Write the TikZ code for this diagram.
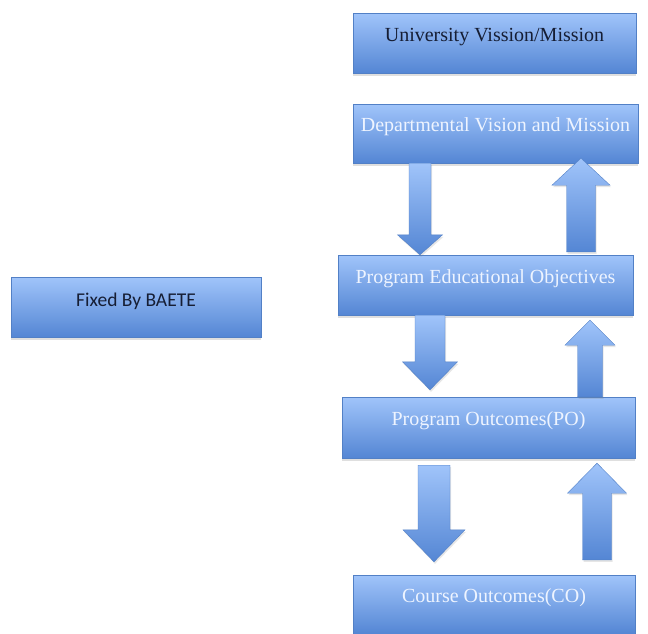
\documentclass[tikz,border=0pt]{standalone}
\usepackage{fontspec}
\setmainfont{Liberation Serif}
\newfontfamily\calibri{Carlito}
\usetikzlibrary{calc,shadows}

\definecolor{boxtop}{RGB}{160,196,250}
\definecolor{boxbottom}{RGB}{84,134,212}
\definecolor{boxline}{RGB}{82,128,198}
\definecolor{darktext}{RGB}{22,30,52}
\definecolor{lighttext}{RGB}{238,244,255}

\newcommand{\blockarrow}[5]{%
  \path[blockarr] let \p1=#1, \p2=#2, \n1={\y2+ifthenelse(\y2>\y1,-#5,#5)} in
    ({\x1-#3},\y1) -- ({\x1-#3},\n1) -- ({\x1-#4},\n1) -- (\x1,\y2)
    -- ({\x1+#4},\n1) -- ({\x1+#3},\n1) -- ({\x1+#3},\y1) -- cycle;}

\begin{document}
\begin{tikzpicture}[x=1pt,y=-1pt,
  box/.style={draw=boxline, top color=boxtop, bottom color=boxbottom, inner sep=0pt,
    text=lighttext, font=\fontsize{20}{23}\selectfont, text height=13pt, text depth=17pt,
    drop shadow={opacity=0.25, shadow xshift=0pt, shadow yshift=-3pt}},
  blockarr/.style={draw=boxline, top color=boxtop, bottom color=boxbottom,
    drop shadow={opacity=0.2, shadow xshift=1pt, shadow yshift=-2pt}}]
\useasboundingbox (0,0) rectangle (648,633);

\node[box, minimum width=283pt, minimum height=60pt, text=darktext] (univ) at (494.5,43) {University Vission/Mission};
\node[box, minimum width=285pt, minimum height=59pt] (dept) at (495.5,133.5) {Departmental Vision and Mission};
\node[box, minimum width=250pt, minimum height=60pt, text=darktext, text depth=15pt, font=\calibri\fontsize{19.5}{22}\selectfont] (baete) at (136,307) {Fixed By BAETE};
\node[box, minimum width=295pt, minimum height=60pt] (peo) at (485.5,285) {Program Educational Objectives};
\node[box, minimum width=293pt, minimum height=61pt] (po) at (488.5,427.5) {Program Outcomes(PO)};
\node[box, minimum width=282pt, minimum height=59pt] (co) at (494,604.5) {Course Outcomes(CO)};

\coordinate (c1) at (420,0);
\coordinate (c2) at (581,0);
\coordinate (c3) at (430,0);
\coordinate (c4) at (590,0);
\coordinate (c5) at (434,0);
\coordinate (c6) at (597,0);

\blockarrow{(dept.south -| c1)}{(peo.north -| c1)}{11pt}{22.5pt}{20pt}
\blockarrow{($(peo.north -| c2)+(0,-3)$)}{($(dept.south -| c2)+(0,-5)$)}{14.5pt}{29pt}{27pt}
\blockarrow{(peo.south -| c3)}{($(po.north -| c3)+(0,-7)$)}{15pt}{27.5pt}{28pt}
\blockarrow{(po.north -| c4)}{($(peo.south -| c4)+(0,5)$)}{12.5pt}{25pt}{25pt}
\blockarrow{($(po.south -| c5)+(0,7)$)}{($(co.north -| c5)+(0,-13)$)}{16pt}{31pt}{32pt}
\blockarrow{($(co.north -| c6)+(0,-15)$)}{($(po.south -| c6)+(0,5)$)}{14.5pt}{29.5pt}{30pt}
\end{tikzpicture}
\end{document}
